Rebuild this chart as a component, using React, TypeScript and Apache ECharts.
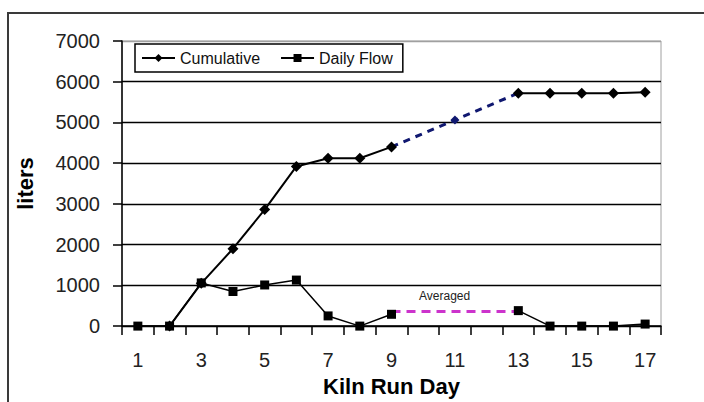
import React, { useEffect, useRef } from "react";
import * as echarts from "echarts";

const days = ["1","2","3","4","5","6","7","8","9","10","11","12","13","14","15","16","17"];
const cumulative = [null, 0, 1050, 1900, 2860, 3920, 4120, 4120, 4400, null, null, null, 5720, 5720, 5720, 5720, 5740];
const cumulativeEstimated = [null, null, null, null, null, null, null, null, 4400, null, 5060, null, 5720, null, null, null, null];
const dailyFlow = [0, 0, 1060, 850, 1010, 1130, 250, 0, 290, null, null, null, 380, 0, 0, 0, 50];
const dailyAveraged = [null, null, null, null, null, null, null, null, 360, null, null, null, 360, null, null, null, null];
const yTicks = { min: 0, max: 7000, interval: 1000 };
const averagedLabel = "Averaged";

const FONT = "Liberation Sans, Arial, sans-serif";

export default function App() {
  const ref = useRef<HTMLDivElement>(null);
  useEffect(() => {
    if (!ref.current) return;
    const chart = echarts.init(ref.current, null, { renderer: "svg" });
    const option: any = {
      animation: false,
      backgroundColor: "#fff",
      textStyle: { fontFamily: FONT },
      grid: {
        left: 122,
        right: 43,
        top: 41,
        bottom: 70,
        show: true,
        borderColor: "#a0a0a0",
        borderWidth: 1,
        backgroundColor: "transparent",
      },
      legend: {
        data: ["Cumulative", "Daily Flow"],
        left: 135,
        top: 44,
        orient: "horizontal",
        itemWidth: 33,
        itemHeight: 10,
        itemGap: 20,
        padding: [6, 10, 6, 6],
        borderColor: "#000",
        borderWidth: 1.5,
        backgroundColor: "#fff",
        textStyle: { fontFamily: FONT, fontSize: 16, color: "#111" },
      },
      xAxis: {
        type: "category",
        data: days,
        boundaryGap: true,
        name: "Kiln Run Day",
        nameLocation: "middle",
        nameGap: 44,
        nameTextStyle: { fontFamily: FONT, fontSize: 22, fontWeight: "bold", color: "#000", verticalAlign: "top" },
        axisLine: { lineStyle: { color: "#000", width: 1.5 } },
        axisTick: { show: true, interval: 0, length: 9, lineStyle: { color: "#000", width: 1.5 } },
        axisLabel: { interval: 1, margin: 24, fontSize: 20, color: "#222", fontFamily: FONT },
        splitLine: { show: false },
      },
      yAxis: {
        type: "value",
        min: yTicks.min,
        max: yTicks.max,
        interval: yTicks.interval,
        name: "liters",
        nameLocation: "middle",
        nameGap: 86,
        nameTextStyle: { fontFamily: FONT, fontSize: 22, fontWeight: "bold", color: "#000" },
        axisLine: { show: true, lineStyle: { color: "#000", width: 1.5 } },
        axisTick: { show: true, length: 9, lineStyle: { color: "#000", width: 1.5 } },
        axisLabel: { margin: 22, fontSize: 20, color: "#222", fontFamily: FONT, formatter: (v: number) => String(v) },
        splitLine: {
          show: true,
          lineStyle: { color: ["#000", "#000", "#000", "#000", "#000", "#000", "#000", "#a0a0a0"], width: 1.3 },
        },
      },
      series: [
        {
          name: "Cumulative",
          type: "line",
          data: cumulative,
          connectNulls: false,
          symbol: "diamond",
          symbolSize: 11,
          color: "#000",
          lineStyle: { color: "#000", width: 2 },
          itemStyle: { color: "#000" },
          z: 3,
        },
        {
          name: "Cumulative (estimated)",
          type: "line",
          data: cumulativeEstimated.map((v, i) =>
            i === 10 && v !== null ? { value: v, symbol: "diamond", symbolSize: 9 } : { value: v, symbol: "none" }
          ),
          connectNulls: true,
          symbol: "none",
          color: "#101870",
          lineStyle: { color: "#101870", width: 3, type: [7, 6] },
          itemStyle: { color: "#101870" },
          z: 2,
        },
        {
          name: "Daily Averaged",
          type: "line",
          data: dailyAveraged,
          connectNulls: true,
          symbol: "none",
          color: "#cc33cc",
          lineStyle: { color: "#cc33cc", width: 3, type: [9, 6] },
          z: 2,
        },
        {
          name: "Daily Flow",
          type: "line",
          data: dailyFlow,
          connectNulls: false,
          symbol: "rect",
          symbolSize: 9,
          color: "#000",
          lineStyle: { color: "#000", width: 1.5 },
          itemStyle: { color: "#000" },
          z: 4,
        },
      ],
      graphic: [
        {
          type: "rect",
          z: -10,
          silent: true,
          shape: { x: 8, y: 13, width: 800, height: 500 },
          style: { fill: "none", stroke: "#3a3a3a", lineWidth: 2 },
        },
        {
          type: "text",
          left: 419,
          top: 290,
          style: { text: averagedLabel, fontFamily: FONT, fontSize: 12, fill: "#222" },
        },
      ],
    };
    chart.setOption(option);
    return () => chart.dispose();
  }, []);
  return (
    <div
      ref={ref}
      style={{ position: "fixed", left: 0, top: 0, width: 704, height: 402, background: "#fff" }}
    />
  );
}
